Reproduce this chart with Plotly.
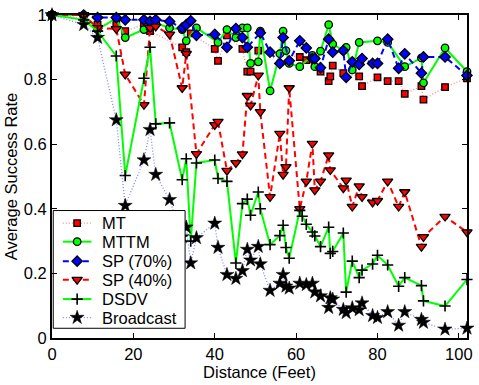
import plotly.graph_objects as go

# ---------------- data ----------------
DIST = [0, 7.8, 11.2, 15.8, 18, 22.6, 24.1, 25.5, 28.9, 32, 33, 34.1, 35.5, 40, 40.8,
        43, 45.2, 46.8, 48, 48.8, 50.7, 51.2, 53.6, 56, 56.8, 57.5, 58.3, 60.9, 61.5,
        62.5, 64, 64.6, 66, 68, 68.4, 69, 71.6, 72.3, 73.8, 75.5, 76.2, 78.8, 80, 82.5,
        85.2, 86.7, 90.8, 91.3, 96.6, 102]

MT = [1.0, 0.99, 0.97, 0.975, 0.95, 0.97, 0.95, None, None, 0.90, 0.885, 0.943, None,
      0.895, 0.858, 0.937, None, 0.895, 0.825, 0.825, 0.89, None, None, None, None, None,
      None, 0.87, None, 0.86, None, None, 0.825, 0.795, 0.81, 0.843, 0.82, None, None,
      0.81, 0.78, None, 0.807, 0.795, 0.795, 0.756, 0.78, 0.738, 0.777, 0.804]

MTTM = [1.0, 1.0, 0.955, 0.99, 0.93, 0.955, 0.96, 0.975, 0.96, 0.955, 0.92, None, 0.96,
        None, 0.915, 0.955, 0.93, 0.96, 0.96, 0.85, 0.855, 0.95, 0.765, 0.88, 0.95, 0.89,
        0.85, 0.84, None, None, 0.875, 0.84, 0.888, 0.97, None, 0.91, 0.89, 0.90, 0.83,
        0.915, None, None, 0.92, 0.915, None, 0.84, 0.867, 0.79, 0.898, 0.825]

SP70 = [1.0, 1.0, 0.992, 0.992, 0.985, 0.985, 0.98, 0.985, 0.98, 0.96, 0.97, 0.982, 0.937,
        0.94, None, 0.90, 0.958, 0.93, 0.90, None, None, 0.945, 0.885, 0.85, 0.93, None,
        0.858, 0.92, None, 0.898, 0.865, 0.865, 0.837, 0.925, None, 0.885, 0.89, 0.807,
        0.855, 0.847, 0.865, 0.85, 0.85, 0.925, 0.835, 0.88, 0.82, 0.87, 0.87, 0.813]

SP40 = [1.0, 1.0, 0.96, 0.957, 0.816, 0.722, 0.96, 0.965, 0.94, 0.774, 0.88, None, 0.57,
        0.66, 0.67, 0.518, 0.542, 0.569, 0.75, 0.72, 0.813, 0.70, 0.437, 0.633, 0.506,
        0.53, 0.774, 0.40, None, 0.485, 0.602, 0.458, 0.485, 0.566, 0.52, None, 0.464,
        0.488, 0.407, 0.47, 0.437, 0.42, 0.425, 0.485, 0.407, 0.452, 0.283, 0.313, 0.376,
        0.328]

DSDV = [1.0, 0.985, 0.95, 0.873, 0.503, 0.804, 0.90, 0.663, 0.666, 0.49, 0.555, 0.30,
        0.542, 0.551, 0.494, 0.485, 0.232, 0.416, 0.43, 0.38, 0.452, 0.40, 0.289, 0.317,
        0.349, 0.28, 0.247, 0.395, 0.377, 0.352, 0.328, 0.316, 0.283, 0.343, 0.262, 0.268,
        0.325, 0.142, 0.238, 0.187, 0.21, 0.229, 0.256, 0.226, 0.16, 0.187, 0.162, 0.115,
        0.099, 0.181]

BROADCAST = [1.0, 0.97, 0.93, 0.675, 0.41, 0.551, 0.645, 0.506, 0.428, 0.313, 0.343,
             0.232, 0.31, 0.355, 0.28, 0.196, 0.184, 0.208, 0.274, 0.241, 0.283, 0.229,
             0.147, 0.169, 0.196, 0.16, 0.154, 0.169, None, 0.165, 0.169, 0.142, 0.13,
             0.094, 0.124, 0.12, 0.088, 0.078, 0.093, 0.087, 0.108, 0.069, 0.063, 0.081,
             0.039, 0.081, 0.057, 0.048, 0.027, 0.03]

NAMES = ["MT", "MTTM", "SP (70%)", "SP (40%)", "DSDV", "Broadcast"]
VALUES = [MT, MTTM, SP70, SP40, DSDV, BROADCAST]

X_TICKS = [0, 20, 40, 60, 80, 100]
Y_TICKS = [0, 0.2, 0.4, 0.6, 0.8, 1]

# ---------------- styles ----------------
EDGE = dict(color="black", width=1.3)
STYLES = [
    dict(line=dict(color="rgba(255,60,60,0.6)", width=1.3, dash="1px,2px"),
         marker=dict(symbol="square", size=6.5, color="#ff0000", line=EDGE)),
    dict(line=dict(color="#00ff00", width=2),
         marker=dict(symbol="circle", size=7.5, color="#00ff00", line=EDGE)),
    dict(line=dict(color="#0000ff", width=2, dash="6px,4px"),
         marker=dict(symbol="diamond", size=8, color="#0000ff", line=EDGE)),
    dict(line=dict(color="#ff0000", width=2, dash="6px,4px"),
         marker=dict(symbol="triangle-down", size=9, color="#ff0000", line=EDGE)),
    dict(line=dict(color="#00ff00", width=2),
         marker=dict(symbol="cross-thin", size=8, color="black",
                     line=dict(color="black", width=1.6))),
    dict(line=dict(color="rgba(90,90,255,0.75)", width=1.3, dash="1px,2px"),
         marker=dict(symbol="star", size=10.5, color="black",
                     line=dict(color="black", width=0.5))),
]

FONT = "Liberation Sans, Arial, Helvetica, sans-serif"

fig = go.Figure()
for name, vals, st in zip(NAMES, VALUES, STYLES):
    fig.add_trace(go.Scatter(x=DIST, y=vals, name=name, mode="lines+markers",
                             connectgaps=True, cliponaxis=False, showlegend=False,
                             hoverinfo="skip", **st))

# ---------------- MATLAB-style legend box (overlay axes in plot fractions) ----------------
LEG_X0, LEG_X1, LEG_Y0, LEG_Y1 = 0.003, 0.3207, 0.0301, 0.3946
LEG_ROWS = [0.3554, 0.2982, 0.2380, 0.1807, 0.1205, 0.0633]
SAMPLE_X = [0.0261, 0.0606, 0.0950]
TEXT_X = 0.1164

fig.add_trace(go.Scatter(x=[LEG_X0, LEG_X1, LEG_X1, LEG_X0, LEG_X0],
                         y=[LEG_Y0, LEG_Y0, LEG_Y1, LEG_Y1, LEG_Y0],
                         mode="lines", fill="toself", fillcolor="white",
                         line=dict(color="black", width=1), xaxis="x2", yaxis="y2",
                         showlegend=False, hoverinfo="skip", cliponaxis=False))
for name, yy, st in zip(NAMES, LEG_ROWS, STYLES):
    mk = dict(st["marker"])
    mk["opacity"] = [0, 1, 0]
    fig.add_trace(go.Scatter(x=SAMPLE_X, y=[yy] * 3, mode="lines+markers",
                             line=st["line"], marker=mk, xaxis="x2", yaxis="y2",
                             showlegend=False, hoverinfo="skip", cliponaxis=False))
    fig.add_annotation(x=TEXT_X, y=yy, xref="paper", yref="paper", text=name,
                       showarrow=False, xanchor="left", yanchor="middle",
                       font=dict(family=FONT, size=16.5, color="black"))

axis_common = dict(showline=True, linecolor="black", linewidth=2, mirror="ticks",
                   ticks="inside", ticklen=5, tickwidth=1, tickcolor="black",
                   showgrid=False, zeroline=False,
                   tickfont=dict(family=FONT, size=16.5, color="black"))

fig.update_layout(
    width=479, height=385,
    margin=dict(l=52, r=6, t=10, b=43),
    paper_bgcolor="white", plot_bgcolor="white",
    font=dict(family=FONT, size=16.5, color="black"),
    xaxis=dict(range=[0, 102], tickvals=X_TICKS,
               title=dict(text="Distance (Feet)", font=dict(family=FONT, size=16.5),
                          standoff=5),
               **axis_common),
    yaxis=dict(range=[0, 1], tickvals=Y_TICKS,
               title=dict(text="Average Success Rate", font=dict(family=FONT, size=16.5),
                          standoff=2),
               **axis_common),
    xaxis2=dict(overlaying="x", range=[0, 1], visible=False, fixedrange=True),
    yaxis2=dict(overlaying="y", range=[0, 1], visible=False, fixedrange=True),
    showlegend=False,
)

fig.write_html("out.html")
